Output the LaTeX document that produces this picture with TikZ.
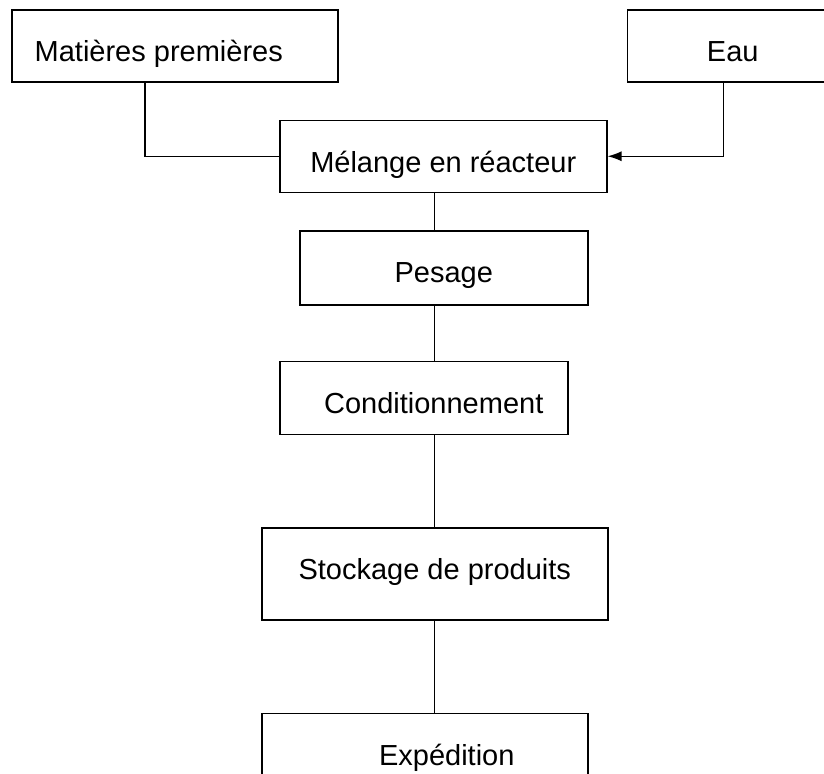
\documentclass[tikz,border=0pt]{standalone}
\usepackage{fontspec}
\setmainfont{Liberation Sans}
\usetikzlibrary{positioning,arrows.meta}
\tikzset{
  node-box/.style={draw=black,line width=0.75pt,inner xsep=0pt,inner ysep=0pt,
    text height=26pt,text depth=10pt,font=\fontsize{14.5}{17}\selectfont},
  line/.style={draw=black,line width=0.7pt},
  arrow/.style={-{Latex[length=7pt,width=5pt]},line width=0.7pt,draw=black},
}

\begin{document}
\begin{tikzpicture}[x=0.5pt,y=-0.5pt]
  \useasboundingbox (0,0) rectangle (824,773);
  \clip (0,0) rectangle (824,773);
  % inputs
  \node[node-box,anchor=north west,minimum width=163pt] (mat) at (11,9) {Matières premières\hspace*{16pt}};
  \node[node-box,minimum width=105.5pt,right=144pt of mat] (eau) {Eau};
  % process
  \node[node-box,minimum width=163.5pt,below right=18.5pt and 134pt of mat.south west] (melange) {Mélange en réacteur};
  \node[node-box,minimum width=144pt,text depth=11pt,below right=18.5pt and 10pt of melange.south west] (pesage) {Pesage};
  \node[node-box,minimum width=144pt,text depth=10.5pt,below right=27.5pt and -10pt of pesage.south west] (cond) {\hspace*{10pt}Conditionnement};
  \node[node-box,minimum width=173pt,text depth=20pt,below right=46pt and -9pt of cond.south west] (stock) {Stockage de produits};
  \node[node-box,minimum width=163pt,text depth=20pt,below right=46pt and 0pt of stock.south west] (exped) {\hspace*{22pt}Expédition};
  \coordinate (matdrop) at ([xshift=67pt]mat.south west);
  \coordinate (eaudrop) at ([xshift=48.5pt]eau.south west);
  \draw[line] (matdrop) |- (melange.west);
  \draw[arrow] (eaudrop) |- (melange.east);
  \draw[line] (melange.south -| stock.north) -- (pesage.north -| stock.north);
  \draw[line] (pesage.south -| stock.north) -- (cond.north -| stock.north);
  \draw[line] (cond.south -| stock.north) -- (stock.north);
  \draw[line] (stock.south) -- (exped.north -| stock.south);
\end{tikzpicture}
\end{document}
